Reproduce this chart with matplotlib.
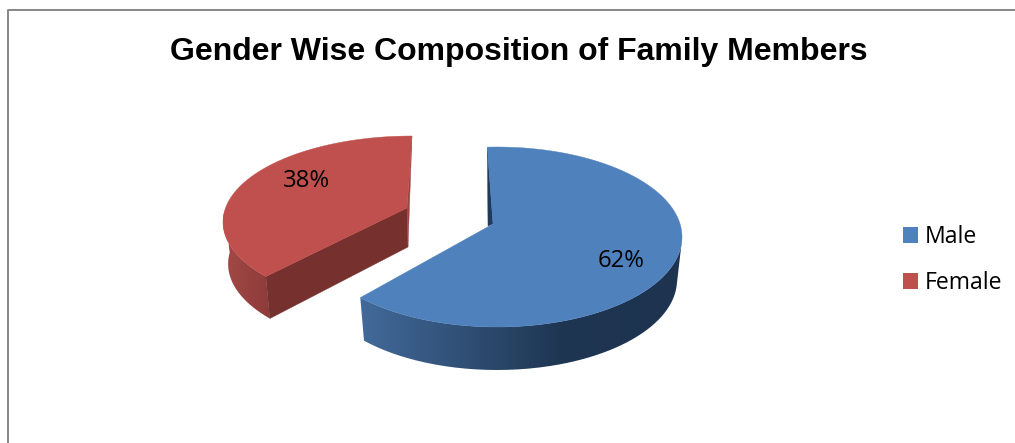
import numpy as np
import matplotlib
matplotlib.use('Agg')
import matplotlib.pyplot as plt
from matplotlib.colors import LinearSegmentedColormap
from matplotlib.patches import Patch, PathPatch, Polygon
from matplotlib.path import Path

title = 'Gender Wise Composition of Family Members'
categories = ['Male', 'Female']
values = [62, 38]
top_colors = ['#4f81bd', '#c0504d']

# Excel style 3D pie, so the axes work in pixels of the picture
W, H = 1015, 443
DEPTH_WARP = 8  # perspective stretches the front of the pie


def rim(share_deg, w, lower=False):
    t = np.radians(share_deg + DEPTH_WARP * np.sin(np.radians(share_deg) / 2) + w['rot'])
    rx = w['rx'] * (w['shrink'] if lower else 1)
    cy = w['cy'] + (w['depth'] if lower else 0)
    return np.column_stack([w['cx'] + rx * np.sin(t), cy - w['ry'] * np.cos(t)])


def gradient_fill(ax, verts, stops, zorder):
    patch = PathPatch(Path(verts), fc='none', ec='none', transform=ax.transData)
    ax.add_patch(patch)
    cmap = LinearSegmentedColormap.from_list('side', stops)
    x0, x1 = verts[:, 0].min(), verts[:, 0].max()
    y0, y1 = verts[:, 1].min(), verts[:, 1].max()
    im = ax.imshow(np.linspace(0, 1, 256)[None, :], cmap=cmap, aspect='auto',
                   extent=(x0, x1, y1, y0), zorder=zorder, interpolation='bilinear')
    im.set_clip_path(patch)


def male_cuts(top, apex, lower):
    return [(np.array([top[0], apex, apex + [-5, 2]]), '#1f3a5a')]


def female_cuts(top, apex, lower):
    inner = apex + [1, 39]
    return [(np.array([top[0], apex, inner, lower[0]]), '#76302e'),
            (np.array([top[-1], apex, inner]), '#9c4644')]


male = dict(cx=497, cy=237, rx=185, ry=90, rot=-3, depth=43, shrink=0.973, apex=(493, 224),
            wall_stops=[(0, '#426a9a'), (0.62, '#1f3653'), (1, '#1d3350')], cuts=male_cuts)
female = dict(cx=412, cy=222, rx=189, ry=86, rot=0, depth=42, shrink=0.973, apex=(407, 208),
              wall_stops=[(0, '#a34a48'), (1, '#8d3b39')], cuts=female_cuts)


def draw_wedge(ax, start, end, wall_start, wall_end, color, w):
    top = rim(np.linspace(start, end, 200), w)
    apex = np.array(w['apex'])

    # outer wall, only the part that faces the viewer
    wall_angles = np.linspace(wall_start, wall_end, 120)
    upper = rim(wall_angles, w)
    lower = rim(wall_angles, w, lower=True)
    gradient_fill(ax, np.vstack([upper, lower[::-1]]), w['wall_stops'], 2)

    # cut faces
    for pts, c in w['cuts'](top, apex, lower):
        ax.add_patch(Polygon(pts, closed=True, fc=c, ec=c, lw=0.3, zorder=3))

    ax.add_patch(Polygon(np.vstack([apex, top]), closed=True, fc=color, ec=color,
                         lw=0.3, zorder=4))


fig = plt.figure(figsize=(W / 100, H / 100), dpi=100)
ax = fig.add_axes([0, 0, 1, 1])

# chart border, left and top only show in the crop
ax.plot([8, 8, W], [H, 10, 10], color='#868686', lw=1.4, zorder=1)

edges = np.cumsum([0] + values) / sum(values) * 360
draw_wedge(ax, edges[0], edges[1], 90, edges[1], top_colors[0], male)
draw_wedge(ax, edges[1], edges[2], edges[1], 272, top_colors[1], female)

ax.text(519, 52, title, family='Liberation Sans', weight='bold', fontsize=23,
        ha='center', va='center', color='black', zorder=6)

label_pos = [(621, 261), (307, 181)]
for v, (lx, ly) in zip(values, label_pos):
    ax.text(lx, ly, f'{v}%', family='Open Sans', fontsize=17.2, ha='center', va='center',
            color='black', zorder=6)

handles = [Patch(fc=c, ec='none', label=n) for c, n in zip(top_colors, categories)]
ax.legend(handles=handles, loc='center left', bbox_to_anchor=(898 / W, 1 - 260 / H),
          frameon=False, prop={'family': 'Open Sans', 'size': 16.6}, handlelength=0.66,
          handleheight=0.66, handletextpad=0.3, labelspacing=0.95, borderpad=0.2,
          borderaxespad=0)

ax.set_xlim(0, W)
ax.set_ylim(H, 0)
ax.axis('off')

fig.savefig('out.png', dpi=100)
